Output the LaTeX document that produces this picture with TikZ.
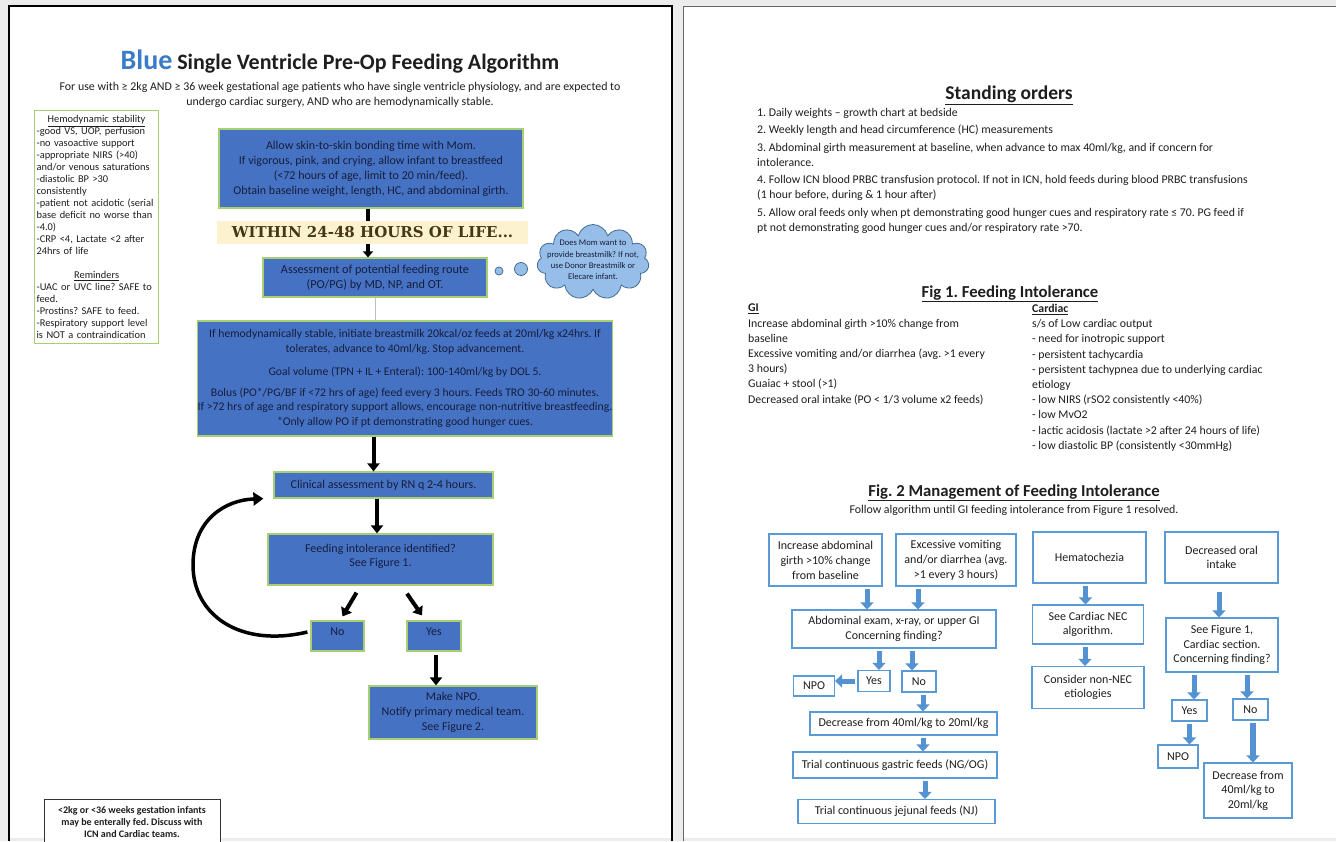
\documentclass[tikz,border=0pt]{standalone}
\usepackage{fontspec}
\setmainfont{Carlito}
\newfontfamily\bandfont{DejaVu Serif}
\usetikzlibrary{arrows.meta,shapes.symbols}
\definecolor{boxblue}{RGB}{70,114,196}
\definecolor{boxgreen}{RGB}{168,208,112}
\definecolor{boxtext}{RGB}{22,30,60}
\definecolor{titleblue}{RGB}{58,124,200}
\definecolor{bandyellow}{RGB}{253,242,208}
\definecolor{bandtext}{RGB}{70,55,20}
\definecolor{cloudblue}{RGB}{150,190,232}
\definecolor{figblue}{RGB}{91,155,213}
\definecolor{arrowblue}{RGB}{84,146,210}
\definecolor{pagegray}{RGB}{236,236,236}
\definecolor{ink}{RGB}{30,30,30}
\frenchspacing

\begin{document}
\begin{tikzpicture}[x=1pt,y=-1pt,
  bluebox/.style={draw=boxgreen,line width=1.2pt,fill=boxblue,text=boxtext,align=center,inner sep=0pt,font=\fontsize{12}{15}\selectfont},
  figbox/.style={draw=figblue,line width=1.2pt,fill=white,text=ink,align=center,inner sep=0pt,font=\fontsize{12}{14.5}\selectfont},
  blackarrow/.style={line width=4pt,-{Triangle[width=12pt,length=8pt]}},
  bluearrow/.style={draw=arrowblue,line width=5pt,-{Triangle[width=13pt,length=7pt]},shorten <=2pt},
  plain/.style={inner sep=0pt,text=ink,align=left,anchor=north west}]
\clip (0,0) rectangle (1336,841);
\fill[pagegray] (0,0) rectangle (1336,841);
\fill[white] (9,6) rectangle (672,838);
\draw[line width=2pt] (9,841) -- (9,6) -- (672,6) -- (672,841);
\fill[white] (683,6) rectangle (1336,838);
\draw[black!60,line width=1pt] (683,841) -- (683,6) -- (1336,6);

% left page
\node[font=\fontsize{22}{26}\selectfont\bfseries,text=ink] (title) at (340,62)
  {\textcolor{titleblue}{\fontsize{28}{28}\selectfont Blue} Single Ventricle Pre-Op Feeding Algorithm};
\node[font=\fontsize{11.9}{15}\selectfont,align=center,text=ink] (usage) at (340,94.5)
  {For use with ≥ 2kg AND ≥ 36 week gestational age patients who have single ventricle physiology, and are expected to\\
   undergo cardiac surgery, AND who are hemodynamically stable.};

\node[draw=boxgreen,line width=1.2pt,fill=white,text=ink,align=left,anchor=north west,inner xsep=2pt,inner ysep=3pt,
  text width=120pt,minimum height=233,font=\fontsize{10.4}{12}\selectfont] (stable) at (34,110) {%
  \centerline{\underline{Hemodynamic stability}}
  -good VS, UOP, perfusion\\
  -no vasoactive support\\
  -appropriate NIRS (>40)\\
  and/or venous saturations\\
  -diastolic BP >30\\
  consistently\\
  -patient not acidotic (serial\\
  base deficit no worse than\\
  -4.0)\\
  -CRP <4, Lactate <2 after\\
  24hrs of life\par\vspace{12pt}
  \centerline{\underline{Reminders}}
  -UAC or UVC line? SAFE to\\
  feed.\\
  -Prostins? SAFE to feed.\\
  -Respiratory support level\\
  is NOT a contraindication};

\node[bluebox,minimum width=304,minimum height=79] (skin) at (371,168.5)
  {Allow skin-to-skin bonding time with Mom.\\
   If vigorous, pink, and crying, allow infant to breastfeed\\
   (<72 hours of age, limit to 20 min/feed).\\
   Obtain baseline weight, length, HC, and abdominal girth.};
\node[fill=bandyellow,minimum width=311,minimum height=23,inner sep=0pt,text=bandtext,
  font=\bandfont\bfseries\fontsize{15}{15}\selectfont] (band) at (372.5,232.5) {WITHIN 24-48 HOURS OF LIFE...};
\node[bluebox,minimum width=224,minimum height=39,font=\fontsize{12.2}{15.5}\selectfont] (route) at (375,277.5)
  {Assessment of potential feeding route\\(PO/PG) by MD, NP, and OT.};
\node[circle,fill=cloudblue,draw=figblue!70!black,line width=0.8pt,minimum size=8,inner sep=0pt] (dota) at (499,271) {};
\node[circle,fill=cloudblue,draw=figblue!70!black,line width=0.8pt,minimum size=13,inner sep=0pt] (dotb) at (521,269) {};
\node[cloud,cloud puffs=11,cloud ignores aspect,fill=cloudblue,draw=figblue!70!black,line width=0.8pt,
  minimum width=112,minimum height=75,inner sep=0pt] (cloud) at (593,262) {};
\node[align=center,text=boxtext,font=\fontsize{8.6}{11.3}\selectfont] (cloudtext) at ([yshift=2pt]cloud.center)
  {Does Mom want to\\provide breastmilk? If not,\\use Donor Breastmilk or\\Elecare infant.};

\node[bluebox,minimum width=414,minimum height=115,font=\fontsize{11.7}{14.5}\selectfont] (bolus) at (405,378.5)
  {If hemodynamically stable, initiate breastmilk 20kcal/oz feeds at 20ml/kg x24hrs. If\\
   tolerates, advance to 40ml/kg. Stop advancement.\\[9pt]
   Goal volume (TPN + IL + Enteral): 100-140ml/kg by DOL 5.\\[6pt]
   Bolus (PO*/PG/BF if <72 hrs of age) feed every 3 hours. Feeds TRO 30-60 minutes.\\
   If >72 hrs of age and respiratory support allows, encourage non-nutritive breastfeeding.\\
   *Only allow PO if pt demonstrating good hunger cues.};
\node[bluebox,minimum width=219,minimum height=26] (clin) at (383.5,485) {Clinical assessment by RN q 2-4 hours.};
\node[bluebox,minimum width=225,minimum height=51,font=\fontsize{12}{14}\selectfont] (intol) at (380.5,559.5)
  {Feeding intolerance identified?\\See Figure 1.\\[-6pt]};
\node[bluebox,minimum width=53,minimum height=30] (no) at (337.5,636) {No\\[-7pt]};
\node[bluebox,minimum width=54,minimum height=30] (yes) at (434,636) {Yes\\[-7pt]};
\node[bluebox,minimum width=168,minimum height=53] (npo) at (453,712.5)
  {Make NPO.\\Notify primary medical team.\\See Figure 2.};
\node[draw=black!80,line width=0.8pt,fill=white,minimum width=176,minimum height=46,inner sep=0pt,align=center,
  text=ink,font=\fontsize{10}{12}\selectfont\bfseries] (small) at (132,822)
  {<2kg or <36 weeks gestation infants\\may be enterally fed. Discuss with\\ICN and Cardiac teams.};

\draw[line width=4.5pt] ([xshift=-3pt]skin.south) -- ([xshift=-3pt]skin.south |- band.north);
\draw[line width=4pt,-{Triangle[width=10pt,length=6pt]}] ([xshift=-4.5pt]band.south) -- ([xshift=-4.5pt]band.south |- route.north);
\draw[black!25,line width=1pt] (route.south) -- (route.south |- bolus.north);
\draw[blackarrow] ([xshift=-10pt]clin.north |- bolus.south) -- ([xshift=-10pt]clin.north);
\draw[blackarrow] ([xshift=-6.5pt]clin.south) -- ([xshift=-6.5pt]clin.south |- intol.north);
\draw[blackarrow] ([xshift=-24pt,yshift=-7pt]intol.south) -- ([xshift=5pt,yshift=4pt]no.north);
\draw[blackarrow] ([xshift=26.5pt,yshift=-8pt]intol.south) -- ([xshift=-12pt,yshift=5pt]yes.north);
\draw[blackarrow] ([xshift=2pt,yshift=-3pt]yes.south) -- ([xshift=2pt]yes.south |- npo.north);
\draw[line width=3.5pt,-{Triangle[width=13pt,length=10pt]}] ([xshift=-3pt,yshift=4pt]no.west)
  .. controls (240,648) and (193,615) .. (193,565) .. controls (193,520) and (225,500) .. ([xshift=-10pt]clin.south west);

% right page
\node[font=\fontsize{19.5}{20}\selectfont\bfseries,text=ink] (orders) at (1009,95) {\underline{Standing orders}};
\node[plain,font=\fontsize{11.8}{15}\selectfont] (orderlist) at (757,108)
  {1. Daily weights -- growth chart at bedside\\[2.5pt]
   2. Weekly length and head circumference (HC) measurements\\[2.5pt]
   3. Abdominal girth measurement at baseline, when advance to max 40ml/kg, and if concern for\\
   intolerance.\\[2.5pt]
   4. Follow ICN blood PRBC transfusion protocol. If not in ICN, hold feeds during blood PRBC transfusions\\
   (1 hour before, during \& 1 hour after)\\[2.5pt]
   5. Allow oral feeds only when pt demonstrating good hunger cues and respiratory rate ≤ 70. PG feed if\\
   pt not demonstrating good hunger cues and/or respiratory rate >70.};

\node[font=\fontsize{16.7}{17}\selectfont\bfseries,text=ink] (fig1) at (1010,294) {\underline{Fig 1. Feeding Intolerance}};
\node[plain,font=\fontsize{11.8}{15.2}\selectfont] (gi) at (748,304)
  {\textbf{\underline{GI}}\\
   Increase abdominal girth >10\% change from\\
   baseline\\
   Excessive vomiting and/or diarrhea (avg. >1 every\\
   3 hours)\\
   Guaiac + stool (>1)\\
   Decreased oral intake (PO < 1/3 volume x2 feeds)};
\node[plain,font=\fontsize{11.8}{15.2}\selectfont] (cardiac) at (1032,304)
  {\textbf{\underline{Cardiac}}\\
   s/s of Low cardiac output\\
   - need for inotropic support\\
   - persistent tachycardia\\
   - persistent tachypnea due to underlying cardiac\\
   etiology\\
   - low NIRS (rSO2 consistently <40\%)\\
   - low MvO2\\
   - lactic acidosis (lactate >2 after 24 hours of life)\\
   - low diastolic BP (consistently <30mmHg)};

\node[font=\fontsize{16.7}{17}\selectfont\bfseries,text=ink] (fig2) at (1014,493) {\underline{Fig. 2 Management of Feeding Intolerance}};
\node[font=\fontsize{11.9}{12}\selectfont,text=ink] (fig2sub) at (1014,510) {Follow algorithm until GI feeding intolerance from Figure 1 resolved.};

\node[figbox,minimum width=113,minimum height=52,font=\fontsize{12}{15}\selectfont] (girth) at (825.5,560) {Increase abdominal\\girth >10\% change\\from baseline};
\node[figbox,minimum width=120,minimum height=52,font=\fontsize{12}{15}\selectfont] (vomit) at (956,560) {Excessive vomiting\\and/or diarrhea (avg.\\>1 every 3 hours)};
\node[figbox,minimum width=113,minimum height=51] (hema) at (1089.5,557.5) {Hematochezia};
\node[figbox,minimum width=113,minimum height=51] (oral) at (1221.5,557.5) {Decreased oral\\intake};
\node[figbox,minimum width=204,minimum height=38] (exam) at (894,629) {Abdominal exam, x-ray, or upper GI\\Concerning finding?};
\node[figbox,minimum width=32,minimum height=21] (yesgi) at (874,681) {Yes};
\node[figbox,minimum width=34,minimum height=21] (nogi) at (919,681.5) {No};
\node[figbox,minimum width=41,minimum height=20] (npogi) at (814,686) {NPO};
\node[figbox,minimum width=187,minimum height=23] (decgi) at (903.5,723.5) {Decrease from 40ml/kg to 20ml/kg};
\node[figbox,minimum width=204,minimum height=26] (gastric) at (895,765) {Trial continuous gastric feeds (NG/OG)};
\node[figbox,minimum width=197,minimum height=24] (jejunal) at (896.5,811.5) {Trial continuous jejunal feeds (NJ)};
\node[figbox,minimum width=111,minimum height=39] (nec) at (1088,624.5) {See Cardiac NEC\\algorithm.};
\node[figbox,minimum width=112,minimum height=42] (nonnec) at (1088,687.5) {Consider non-NEC\\etiologies};
\node[figbox,minimum width=112,minimum height=54] (cardsec) at (1222,645) {See Figure 1,\\Cardiac section.\\Concerning finding?};
\node[figbox,minimum width=35,minimum height=21] (yescd) at (1189.5,710.5) {Yes};
\node[figbox,minimum width=35,minimum height=21] (nocd) at (1250.5,709.5) {No};
\node[figbox,minimum width=40,minimum height=23] (npocd) at (1178,756.5) {NPO};
\node[figbox,minimum width=88,minimum height=55] (deccd) at (1248,790.5) {Decrease from\\40ml/kg to\\20ml/kg};

\draw[bluearrow] ([xshift=41.5pt]girth.south) -- ([xshift=41.5pt]girth.south |- exam.north);
\draw[bluearrow] ([xshift=-38pt]vomit.south) -- ([xshift=-38pt]vomit.south |- exam.north);
\draw[bluearrow] ([xshift=5pt]yesgi.north |- exam.south) -- ([xshift=5pt]yesgi.north);
\draw[bluearrow] ([xshift=-7pt]nogi.north |- exam.south) -- ([xshift=-7pt]nogi.north);
\draw[bluearrow] (yesgi.west) -- (yesgi.west -| npogi.east);
\draw[bluearrow] ([xshift=4pt]nogi.south) -- ([xshift=4pt]nogi.south |- decgi.north);
\draw[bluearrow] ([xshift=19.5pt]decgi.south) -- ([xshift=19.5pt]decgi.south |- gastric.north);
\draw[bluearrow] ([xshift=30pt]gastric.south) -- ([xshift=30pt]gastric.south |- jejunal.north);
\draw[bluearrow] ([xshift=-4pt]hema.south) -- ([xshift=-4pt]hema.south |- nec.north);
\draw[bluearrow] ([xshift=-3pt]nec.south) -- ([xshift=-3pt]nec.south |- nonnec.north);
\draw[bluearrow] ([xshift=-2.5pt,yshift=-6pt]oral.south) -- ([xshift=-2.5pt]oral.south |- cardsec.north);
\draw[bluearrow] ([xshift=4.5pt]yescd.north |- cardsec.south) -- ([xshift=4.5pt]yescd.north);
\draw[bluearrow] ([xshift=-3.5pt]nocd.north |- cardsec.south) -- ([xshift=-3.5pt]nocd.north);
\draw[bluearrow] (yescd.south) -- (yescd.south |- npocd.north);
\draw[bluearrow,line width=6pt] ([xshift=2.5pt]nocd.south) -- ([xshift=2.5pt]nocd.south |- deccd.north);
\end{tikzpicture}
\end{document}
